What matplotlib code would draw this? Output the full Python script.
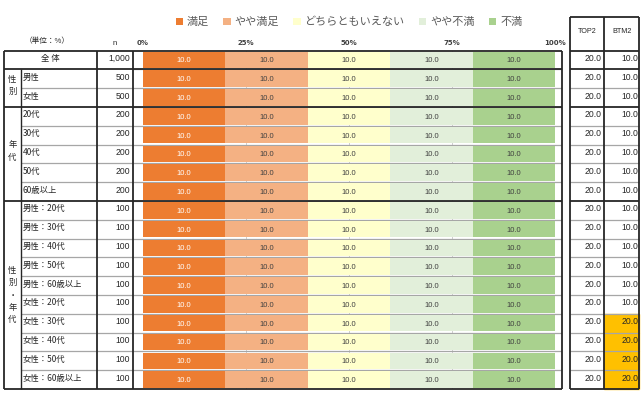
import matplotlib
matplotlib.use("Agg")
import matplotlib.pyplot as plt
import numpy as np

plt.rcParams['font.family'] = ['Noto Sans CJK JP', 'DejaVu Sans']

# ---------------- data ----------------
categories = ['全 体', '男性', '女性', '20代', '30代', '40代', '50代', '60歳以上',
              '男性：20代', '男性：30代', '男性：40代', '男性：50代', '男性：60歳以上',
              '女性：20代', '女性：30代', '女性：40代', '女性：50代', '女性：60歳以上']
n_values = ['1,000', '500', '500', '200', '200', '200', '200', '200',
            '100', '100', '100', '100', '100', '100', '100', '100', '100', '100']
groups = [('性\n別', 1, 2), ('年\n代', 3, 7), ('性\n別\n・\n年\n代', 8, 17)]

series_names = ['満足', 'やや満足', 'どちらともいえない', 'やや不満', '不満']
manzoku =      [10.0, 10.0, 10.0, 10.0, 10.0, 10.0, 10.0, 10.0, 10.0, 10.0, 10.0, 10.0, 10.0, 10.0, 10.0, 10.0, 10.0, 10.0]
yaya_manzoku = [10.0, 10.0, 10.0, 10.0, 10.0, 10.0, 10.0, 10.0, 10.0, 10.0, 10.0, 10.0, 10.0, 10.0, 10.0, 10.0, 10.0, 10.0]
dochira =      [10.0, 10.0, 10.0, 10.0, 10.0, 10.0, 10.0, 10.0, 10.0, 10.0, 10.0, 10.0, 10.0, 10.0, 10.0, 10.0, 10.0, 10.0]
yaya_fuman =   [10.0, 10.0, 10.0, 10.0, 10.0, 10.0, 10.0, 10.0, 10.0, 10.0, 10.0, 10.0, 10.0, 10.0, 10.0, 10.0, 10.0, 10.0]
fuman =        [10.0, 10.0, 10.0, 10.0, 10.0, 10.0, 10.0, 10.0, 10.0, 10.0, 10.0, 10.0, 10.0, 10.0, 10.0, 10.0, 10.0, 10.0]
top2 = [20.0, 20.0, 20.0, 20.0, 20.0, 20.0, 20.0, 20.0, 20.0, 20.0, 20.0, 20.0, 20.0, 20.0, 20.0, 20.0, 20.0, 20.0]
btm2 = [10.0, 10.0, 10.0, 10.0, 10.0, 10.0, 10.0, 10.0, 10.0, 10.0, 10.0, 10.0, 10.0, 10.0, 20.0, 20.0, 20.0, 20.0]
btm2_highlight = [False] * 14 + [True] * 4
xtick_vals = [0, 25, 50, 75, 100]
xtick_labels = ['0%', '25%', '50%', '75%', '100%']

colors = ['#ED7D31', '#F4B183', '#FFFFCC', '#E2EFDA', '#A9D18E']
label_colors = ['white', '#404040', '#404040', '#404040', '#404040']
numfont = 'Liberation Sans'

# ---------------- layout (pixels) ----------------
W, H = 644, 394
fig = plt.figure(figsize=(W / 100, H / 100), dpi=100)

y0, y1 = 50.5, 389.0
nrows = len(categories)
rh = (y1 - y0) / nrows
bx0, bx1 = 133, 562          # bar area frame
p0, p100 = 143, 555          # 0% and 100%
scale = (p100 - p0) / 100.0
xmin = -(p0 - bx0) / scale
xmax = xmin + (bx1 - bx0) / scale

ax = fig.add_axes([bx0 / W, 1 - y1 / H, (bx1 - bx0) / W, (y1 - y0) / H])
ax.set_xlim(xmin, xmax)
ax.set_ylim(nrows - 0.5, -0.5)

data = np.array([manzoku, yaya_manzoku, dochira, yaya_fuman, fuman])
totals = data.sum(axis=0)
shares = data / totals * 100
ypos = np.arange(nrows)
left = np.zeros(nrows)
handles = []
for i in range(5):
    b = ax.barh(ypos, shares[i], left=left, height=0.88, color=colors[i],
                edgecolor='none', zorder=3, label=series_names[i])
    handles.append(b)
    for j in range(nrows):
        ax.text(left[j] + shares[i][j] / 2, ypos[j] + 0.05, f'{data[i][j]:.1f}',
                ha='center', va='center', fontsize=5.5, color=label_colors[i],
                family=numfont, zorder=4)
    left = left + shares[i]

ax.set_xticks(xtick_vals)
ax.set_xticklabels(xtick_labels, fontsize=5, color='#404040', family='DejaVu Sans',
                   fontweight='bold')
ax.tick_params(top=True, labeltop=True, bottom=False, labelbottom=False,
               left=False, labelleft=False, length=0, pad=3)
ax.set_yticks([])
for xv in xtick_vals[1:-1]:
    ax.axvline(xv, color='#C8C8C8', lw=0.6, zorder=1)
for k in range(1, nrows):
    ax.axhline(k - 0.5, color='#A6A6A6', lw=0.9, zorder=2)
for s in ax.spines.values():
    s.set_visible(False)

# ---------------- overlay for table ----------------
ov = fig.add_axes([0, 0, 1, 1], facecolor='none')
ov.set_xlim(0, W)
ov.set_ylim(H, 0)
ov.axis('off')

dark = '#262626'
light = '#A6A6A6'
rx0, rxm, rx1, ry0 = 570.5, 604.5, 639.5, 17.3

def ry(k):
    return y0 + k * rh

group_bounds = {1, 3, 8}
for k in range(1, nrows):
    if k in group_bounds:
        ov.plot([4, bx1], [ry(k), ry(k)], color=dark, lw=1.3, solid_capstyle='butt')
        ov.plot([rx0, rx1], [ry(k), ry(k)], color=dark, lw=1.3, solid_capstyle='butt')
    else:
        ov.plot([21, bx0], [ry(k), ry(k)], color=light, lw=0.9, solid_capstyle='butt')
        ov.plot([rx0, rx1], [ry(k), ry(k)], color=light, lw=0.9, solid_capstyle='butt')

# outer frames
for yy in (y0, y1):
    ov.plot([4, bx1], [yy, yy], color=dark, lw=1.3, solid_capstyle='butt')
for xx in (4, 97, bx0, bx1):
    ov.plot([xx, xx], [y0, y1], color=dark, lw=1.3, solid_capstyle='butt')
ov.plot([21, 21], [ry(1), y1], color=dark, lw=1.0, solid_capstyle='butt')

# right table
for j in range(nrows):
    if btm2_highlight[j]:
        ov.add_patch(plt.Rectangle((rxm, ry(j)), rx1 - rxm, rh, color='#FFC000', zorder=0))
for yy in (ry0, y0, y1):
    ov.plot([rx0, rx1], [yy, yy], color=dark, lw=1.3, solid_capstyle='butt')
for xx in (rx0, rxm, rx1):
    ov.plot([xx, xx], [ry0, y1], color=dark, lw=1.3, solid_capstyle='butt')
ov.text((rx0 + rxm) / 2, 31, 'TOP2', ha='center', va='center', fontsize=5.2,
        color='#262626', family=numfont)
ov.text((rxm + rx1) / 2, 31, 'BTM2', ha='center', va='center', fontsize=5.2,
        color='#262626', family=numfont)

txt = '#262626'
for j in range(nrows):
    yc = ry(j) + rh / 2 - 1.5
    if j == 0:
        ov.text(50, yc, categories[j], ha='center', va='center', fontsize=6, color=txt)
    else:
        ov.text(23, yc, categories[j], ha='left', va='center', fontsize=6, color=txt)
    ov.text(130, yc, n_values[j], ha='right', va='center', fontsize=6.2, color=txt,
            family=numfont)
    ov.text(rxm - 2.5, yc, f'{top2[j]:.1f}', ha='right', va='center', fontsize=6.2,
            color=txt, family=numfont)
    ov.text(rx1 - 1, yc, f'{btm2[j]:.1f}', ha='right', va='center', fontsize=6.2,
            color=txt, family=numfont)

for label, a, b in groups:
    if label.count('\n') > 2:
        yc = 295
    else:
        yc = (ry(a) + ry(b + 1)) / 2 - 3
    ov.text(12.5, yc, label, ha='center', va='center', fontsize=6, color=txt,
            linespacing=1.45)

ov.text(47, 41, '（単位：%）', ha='center', va='center', fontsize=5.5, color=txt)
ov.text(115, 43, 'n', ha='center', va='center', fontsize=5.5, color=txt,
        family=numfont)

fig.legend(handles=handles, labels=series_names, ncol=5, loc='center',
           bbox_to_anchor=(349 / W, 1 - 22 / H), frameon=False, fontsize=8,
           handlelength=0.65, handleheight=0.65, handletextpad=0.35,
           columnspacing=1.3, labelcolor='#595959')

fig.savefig('out.png', dpi=100)
